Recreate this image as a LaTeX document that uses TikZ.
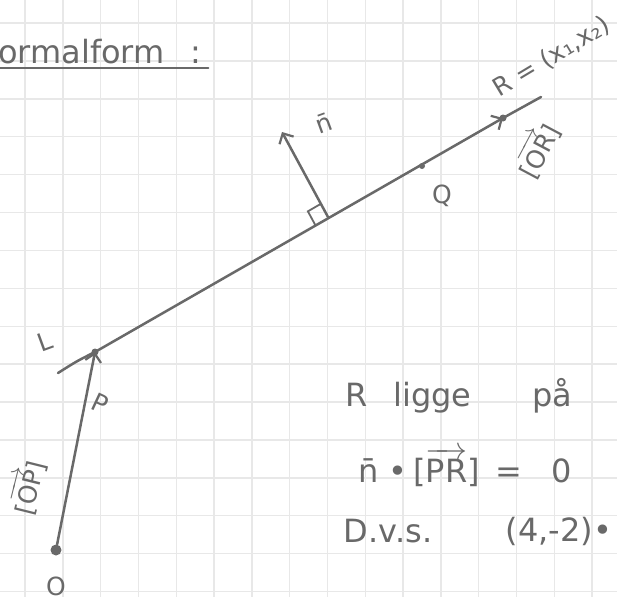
\documentclass[tikz,border=0pt]{standalone}
\usepackage{fix-cm}
\usepackage{amsmath}
\usepackage{fontspec}
\setmainfont{DejaVu Sans}
\usepackage{xcolor}
\usepackage{tikz}
\usetikzlibrary{arrows.meta, calc, positioning}
\definecolor{Pencil}{RGB}{105,105,105}
\definecolor{GridGray}{RGB}{232,232,232}
\newcommand\handsize{\fontsize{32}{34}\selectfont}
\newcommand\lblsize{\fontsize{25}{27}\selectfont}
\tikzset{
  >=latex,
  % strokes
  pencil/.style={draw=Pencil,line width=2.5pt,line cap=round},
  vec/.style={pencil,-{Straight Barb[length=8pt,width=16pt,line width=2.2pt]}},
  gridline/.style={GridGray,line width=1.4pt},
  % points and labels
  pt/.style={circle,fill=Pencil,inner sep=0pt,minimum size=6pt},
  hand/.style={text=Pencil,font=\handsize,inner sep=1pt},
  handlbl/.style={text=Pencil,font=\lblsize,inner sep=1pt}
}
\begin{document}
\begin{tikzpicture}[x=1pt,y=-1pt]
    \useasboundingbox (0,0) rectangle (617,597);
    \fill[white] (0,0) rectangle (617,597);
    % grid paper
    \foreach \gx in {0,...,15}
      \draw[gridline] ({25+37.8*\gx},0) -- ({25+37.8*\gx},597);
    \foreach \gy in {0,...,15}
      \draw[gridline] (0,{23+37.9*\gy}) -- (617,{23+37.9*\gy});
    % title
    \node[hand,anchor=base west] (title) at (-3,63) {ormalform\hspace{0.8em}:};
    \draw[pencil] ([yshift=-5pt]title.base west) -- ([xshift=6pt,yshift=-5pt]title.base east);
    % points
    \node[pt,minimum size=11pt] (O) at (56,550) {};
    \coordinate (P) at (95,352);
    \coordinate (R) at (503,118);
    \coordinate (Lstart) at (58,373);
    \coordinate (Lend) at (541,97);
    \coordinate (foot) at (328,217);
    \coordinate (ntip) at (282,132);
    \node[pt] (Q) at (422,166) {};
    \fill[Pencil] (P) circle (3.5);
    \fill[Pencil] (R) circle (3.5);
    % line L
    \draw[pencil] (Lstart) .. controls (77,361) .. (P);
    \draw[vec] (P) -- (R);
    \draw[pencil] (R) -- (Lend);
    % position vector and normal
    \draw[vec] (O) -- (P);
    \draw[vec] (foot) -- (ntip);
    % right angle
    \coordinate (sqa) at ($(foot)!15pt!(P)$);
    \coordinate (sqc) at ($(foot)!15pt!(ntip)$);
    \draw[pencil,line width=1.8pt] (sqa) -- ($(sqa)+(sqc)-(foot)$) -- (sqc);
    % labels on the figure
    \node[handlbl,rotate=20] (Llbl) at (45,342) {L};
    \node[handlbl,rotate=-25] (Plbl) at (100,403) {P};
    \node[handlbl] (Olbl) at (56,586) {O};
    \node[handlbl] (Qlbl) at (442,196) {Q};
    \node[handlbl,rotate=20] (nlbl) at (324,123) {\=n};
    \node[handlbl,rotate=76] (OPlbl) at (27,487) {[$\overrightarrow{\mathrm{OP}}$]};
    \node[handlbl,rotate=62] (ORlbl) at (537,150) {[$\overrightarrow{\mathrm{OR}}$]};
    \node[handlbl,rotate=31] (Rlbl) at (552,57) {R = (x₁,x₂)};
    % text on the right
    \node[hand] (ligge) at (459,396) {R\hspace{0.8em}ligge\hspace{1.9em}på};
    \node[hand] (eqn) at (465,467) {\=n\hspace{0.3em}•\hspace{0.2em}[$\overrightarrow{\mathrm{PR}}$]\hspace{0.5em}=\hspace{0.9em}0};
    \node[hand] (dvs) at (388,531) {D.v.s.};
    \node[hand] (nvec) at (559,531) {(4,-2)•};
\end{tikzpicture}
\end{document}
